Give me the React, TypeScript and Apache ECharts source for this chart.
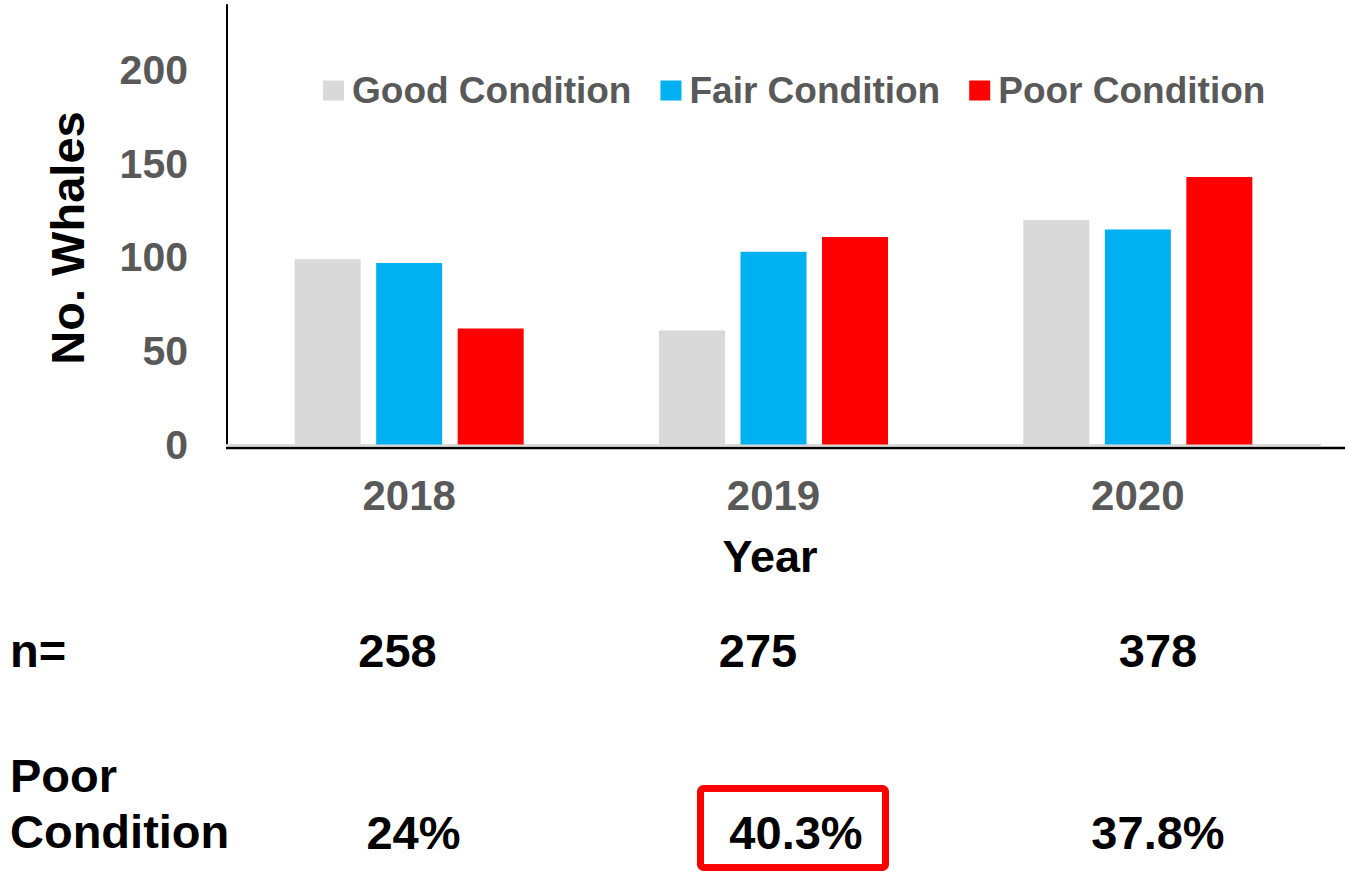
import React, { useEffect, useRef } from "react";
import * as echarts from "echarts";

const categories = ["2018", "2019", "2020"];
const goodCondition = [99, 61, 120];
const fairCondition = [97, 103, 115];
const poorCondition = [62, 111, 143];
const sampleSizes = [258, 275, 378];
const poorPercent = ["24%", "40.3%", "37.8%"];
const seriesNames = ["Good Condition", "Fair Condition", "Poor Condition"];

// layout (not data)
const FONT = "'Liberation Sans', Arial, Helvetica, sans-serif";
const nCentersX = [397.5, 758, 1158];
const pctCentersX = [413.5, 796, 1158];

export default function App() {
  const ref = useRef<HTMLDivElement>(null);
  useEffect(() => {
    if (!ref.current) return;
    const chart = echarts.init(ref.current, undefined, { renderer: "svg" });
    const bottomTexts: any[] = [];
    sampleSizes.forEach((n, i) => {
      bottomTexts.push({
        type: "text",
        x: nCentersX[i],
        y: 650,
        style: {
          text: String(n),
          font: `bold 47px ${FONT}`,
          fill: "#000",
          textAlign: "center",
          textVerticalAlign: "middle",
        },
      });
    });
    poorPercent.forEach((p, i) => {
      bottomTexts.push({
        type: "text",
        x: pctCentersX[i],
        y: 832,
        style: {
          text: p,
          font: `bold 47px ${FONT}`,
          fill: "#000",
          textAlign: "center",
          textVerticalAlign: "middle",
        },
      });
    });
    chart.setOption({
      animation: false,
      color: ["#d9d9d9", "#00b0f0", "#ff0000"],
      textStyle: { fontFamily: FONT },
      grid: { left: 227, right: 25, top: 5, bottom: 427.5, containLabel: false },
      legend: {
        data: seriesNames,
        left: 323,
        top: 72,
        padding: 0,
        icon: "rect",
        itemWidth: 21,
        itemHeight: 20,
        itemGap: 29,
        textStyle: {
          fontSize: 37,
          fontWeight: "bold",
          color: "#595959",
          fontFamily: FONT,
          padding: [0, 0, 0, 3],
        },
      },
      xAxis: {
        type: "category",
        data: categories,
        axisLine: { show: true, lineStyle: { color: "#d9d9d9", width: 2 } },
        axisTick: { show: false },
        axisLabel: {
          fontSize: 42,
          fontWeight: "bold",
          color: "#595959",
          fontFamily: FONT,
          margin: 30,
        },
      },
      yAxis: {
        type: "value",
        min: 0,
        max: 235,
        interval: 50,
        axisLine: { show: true, lineStyle: { color: "#000", width: 2 } },
        axisTick: { show: false },
        splitLine: { show: false },
        axisLabel: {
          fontSize: 41,
          fontWeight: "bold",
          color: "#595959",
          fontFamily: FONT,
          margin: 39,
          showMaxLabel: false,
        },
      },
      series: [
        { name: seriesNames[0], type: "bar", data: goodCondition, barWidth: 66, barGap: "23.5%" },
        { name: seriesNames[1], type: "bar", data: fairCondition, barWidth: 66, barGap: "23.5%" },
        { name: seriesNames[2], type: "bar", data: poorCondition, barWidth: 66, barGap: "23.5%" },
      ],
      graphic: [
        {
          type: "line",
          shape: { x1: 226, y1: 448, x2: 1345, y2: 448 },
          style: { stroke: "#000", lineWidth: 2.5 },
          z: 10,
        },
        {
          type: "text",
          x: 67,
          y: 238,
          rotation: Math.PI / 2,
          style: {
            text: "No. Whales",
            font: `bold 47px ${FONT}`,
            fill: "#000",
            textAlign: "center",
            textVerticalAlign: "middle",
          },
        },
        {
          type: "text",
          x: 770,
          y: 556,
          style: {
            text: "Year",
            font: `bold 45px ${FONT}`,
            fill: "#000",
            textAlign: "center",
            textVerticalAlign: "middle",
          },
        },
        {
          type: "text",
          x: 10,
          y: 650,
          style: { text: "n=", font: `bold 47px ${FONT}`, fill: "#000", textAlign: "left", textVerticalAlign: "middle" },
        },
        {
          type: "text",
          x: 10,
          y: 775,
          style: { text: "Poor", font: `bold 47px ${FONT}`, fill: "#000", textAlign: "left", textVerticalAlign: "middle" },
        },
        {
          type: "text",
          x: 10,
          y: 831,
          style: { text: "Condition", font: `bold 47px ${FONT}`, fill: "#000", textAlign: "left", textVerticalAlign: "middle" },
        },
        ...bottomTexts,
        {
          type: "rect",
          shape: { x: 700.5, y: 788.5, width: 185, height: 79, r: 3 },
          style: { fill: "none", stroke: "#ff0000", lineWidth: 7 },
        },
      ],
    });
    return () => chart.dispose();
  }, []);
  return (
    <div
      ref={ref}
      style={{ position: "fixed", left: 0, top: 0, width: 1345, height: 872, background: "#fff" }}
    />
  );
}
